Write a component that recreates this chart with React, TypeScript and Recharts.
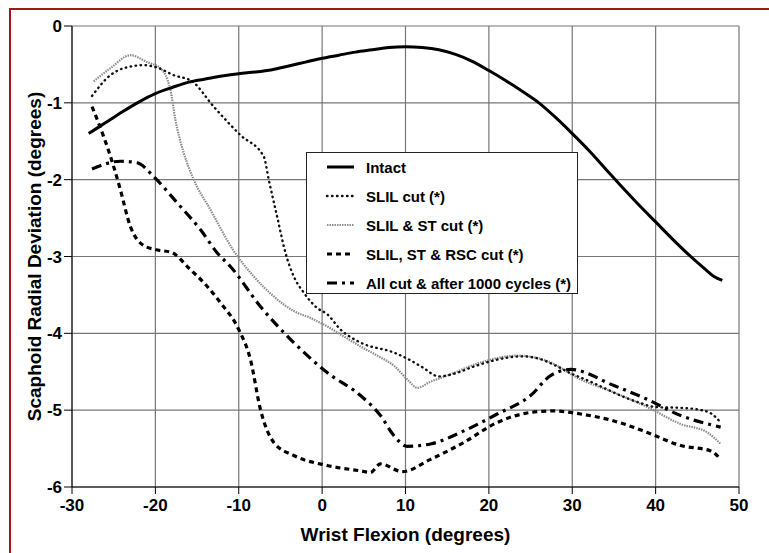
import React from "react";
import { LineChart, Line, XAxis, YAxis, CartesianGrid, Legend, Label } from "recharts";

// wrist flexion (deg) vs scaphoid radial deviation (deg)
const intact: [number, number][] = [
  [-28, -1.4], [-26, -1.26], [-24, -1.12], [-22, -0.99], [-20, -0.88], [-18, -0.8],
  [-16, -0.73], [-14, -0.69], [-12, -0.65], [-10, -0.62], [-8, -0.6], [-6, -0.57],
  [-4, -0.52], [-2, -0.47], [0, -0.42], [2, -0.38], [4, -0.34], [6, -0.31], [8, -0.28],
  [10, -0.27], [12, -0.28], [14, -0.31], [16, -0.37], [18, -0.46], [20, -0.58],
  [22, -0.71], [24, -0.85], [26, -1.0], [28, -1.19], [30, -1.4], [32, -1.62],
  [34, -1.86], [36, -2.1], [38, -2.33], [40, -2.55], [42, -2.77], [44, -2.98],
  [46, -3.17], [47, -3.26], [48, -3.31],
];

const slilCut: [number, number][] = [
  [-27.6, -0.91], [-25.4, -0.64], [-23.5, -0.54], [-21.4, -0.51], [-19.8, -0.54],
  [-17.8, -0.64], [-15.6, -0.72], [-13, -1.05], [-9.8, -1.42], [-7, -1.7],
  [-6.4, -2.0], [-5.4, -2.48], [-4.4, -2.95], [-3.4, -3.26], [-2.2, -3.47],
  [-0.6, -3.67], [0.6, -3.75], [2.2, -3.95], [4.6, -4.12], [8.6, -4.25], [10.4, -4.34],
  [12, -4.44], [14, -4.56], [16, -4.52], [18, -4.44], [20, -4.37], [22, -4.32],
  [24, -4.3], [26, -4.33], [28, -4.42], [30, -4.53], [32, -4.62], [34, -4.72],
  [36, -4.82], [38, -4.9], [40, -4.96], [43, -4.97], [45, -4.99], [46.6, -5.04],
  [47.8, -5.16],
];

const slilStCut: [number, number][] = [
  [-27.4, -0.72], [-25.4, -0.55], [-23, -0.38], [-21, -0.47], [-19.4, -0.55],
  [-18.2, -0.83], [-17.6, -1.22], [-16.6, -1.65], [-15.4, -2.0], [-13.4, -2.39],
  [-10.7, -2.91], [-8.2, -3.26], [-5.8, -3.52], [-3.4, -3.71], [-1.4, -3.8],
  [0.6, -3.91], [2.6, -4.04], [4.6, -4.17], [6.6, -4.29], [8.6, -4.42], [10.4, -4.62],
  [11.4, -4.71], [13, -4.63], [15, -4.55], [19, -4.38], [23.4, -4.29], [27, -4.36],
  [31, -4.6], [35, -4.77], [39, -4.96], [43, -5.18], [46.2, -5.29], [47.8, -5.44],
];

const rscCut: [number, number][] = [
  [-27.6, -1.05], [-26.2, -1.44], [-25, -1.83], [-24.2, -2.13], [-23, -2.61],
  [-21.5, -2.85], [-20, -2.91], [-18, -2.95], [-16, -3.15], [-14.2, -3.34],
  [-12.2, -3.6], [-10, -3.95], [-8.6, -4.34], [-7.4, -4.99], [-5.8, -5.42],
  [-3.4, -5.59], [0.6, -5.72], [4.6, -5.79], [5.8, -5.81], [7, -5.7], [9.6, -5.8],
  [13, -5.64], [17, -5.42], [21, -5.16], [25, -5.03], [27.8, -5.01], [31, -5.05],
  [35, -5.14], [39, -5.29], [43, -5.46], [46.6, -5.53], [47.8, -5.64],
];

const allCut: [number, number][] = [
  [-27.6, -1.86], [-24.2, -1.76], [-22.2, -1.78], [-20.2, -1.96], [-17.4, -2.3],
  [-14.6, -2.65], [-12.6, -2.95], [-11, -3.13], [-7.4, -3.65], [-3.4, -4.12],
  [0.6, -4.51], [4.6, -4.81], [7, -5.07], [8.6, -5.33], [10.2, -5.47], [13, -5.44],
  [17, -5.27], [21, -5.05], [25, -4.81], [27.4, -4.55], [29.8, -4.47], [35, -4.68],
  [39, -4.86], [43, -5.07], [47.8, -5.22],
];

const xTicks = [-30, -20, -10, 0, 10, 20, 30, 40, 50];
const yTicks = [-6, -5, -4, -3, -2, -1, 0];

const FONT = '"Liberation Sans", Arial, sans-serif';

const toPts = (arr: [number, number][]) => arr.map(([x, y]) => ({ x, y }));

const series = [
  { name: "Intact", data: intact, stroke: "#000", width: 3, dash: undefined, cap: "butt" },
  { name: "SLIL cut (*)", data: slilCut, stroke: "#111", width: 2.4, dash: "0.5 4.5", cap: "round" },
  { name: "SLIL & ST cut (*)", data: slilStCut, stroke: "#8c8c8c", width: 2.2, dash: "1.5 1", cap: "butt" },
  { name: "SLIL, ST & RSC cut (*)", data: rscCut, stroke: "#000", width: 3.2, dash: "5 4", cap: "butt" },
  { name: "All cut & after 1000 cycles (*)", data: allCut, stroke: "#000", width: 3.2, dash: "10 5 3 5", cap: "butt" },
];

const drawOrder = [2, 1, 3, 4, 0];

const LegendBox = () => (
  <div
    style={{
      width: 272,
      height: 142,
      boxSizing: "border-box",
      border: "1.5px solid #222",
      background: "#fff",
      position: "relative",
      fontFamily: FONT,
    }}
  >
    {series.map((s, i) => (
      <div
        key={s.name}
        style={{ position: "absolute", left: 0, top: 4 + i * 29, height: 20, display: "flex", alignItems: "center" }}
      >
        <svg width={60} height={20}>
          <line
            x1={20}
            x2={47}
            y1={10}
            y2={10}
            stroke={s.stroke}
            strokeWidth={s.width}
            strokeDasharray={s.dash}
            strokeLinecap={s.cap as any}
          />
        </svg>
        <span style={{ fontSize: 15, fontWeight: "bold", color: "#000", marginLeft: -1 }}>{s.name}</span>
      </div>
    ))}
  </div>
);

export default function App() {
  const tickStyle = { fill: "#000", fontSize: 17, fontWeight: "bold", fontFamily: FONT };
  return (
    <div
      style={{
        position: "absolute",
        left: 0,
        top: 0,
        width: 769,
        height: 553,
        overflow: "hidden",
        background: "#fff",
      }}
    >
      <div
        style={{
          position: "absolute",
          left: 9,
          top: 8,
          width: 800,
          height: 600,
          border: "2px solid #9c1a1a",
        }}
      />
      <LineChart width={769} height={553} margin={{ top: 26, right: 30, bottom: 0, left: 0 }}>
        <CartesianGrid stroke="#777" strokeWidth={1.2} horizontalValues={yTicks} verticalValues={xTicks} />
        <XAxis
          type="number"
          dataKey="x"
          domain={[-30, 50]}
          ticks={xTicks}
          allowDataOverflow
          height={66}
          tickSize={7}
          tickMargin={5}
          stroke="#000"
          tick={tickStyle}
        >
          <Label
            value="Wrist Flexion (degrees)"
            position="insideBottom"
            offset={12}
            fill="#000"
            style={{ fontSize: 19, fontWeight: "bold", fontFamily: FONT }}
          />
        </XAxis>
        <YAxis
          type="number"
          domain={[-6, 0]}
          ticks={yTicks}
          allowDataOverflow
          width={72}
          tickSize={8}
          tickMargin={2}
          stroke="#000"
          tick={tickStyle}
        >
          <Label
            value="Scaphoid Radial Deviation (degrees)"
            angle={-90}
            position="insideLeft"
            offset={34}
            fill="#000"
            style={{ fontSize: 19, fontWeight: "bold", fontFamily: FONT, textAnchor: "middle" }}
          />
        </YAxis>
        {drawOrder.map((i) => {
          const s = series[i];
          return (
            <Line
              key={s.name}
              name={s.name}
              data={toPts(s.data)}
              dataKey="y"
              type="monotone"
              stroke={s.stroke}
              strokeWidth={s.width}
              strokeDasharray={s.dash}
              strokeLinecap={s.cap as any}
              dot={false}
              activeDot={false}
              isAnimationActive={false}
            />
          );
        })}
        <Legend
          layout="vertical"
          align="center"
          verticalAlign="middle"
          content={() => <LegendBox />}
          wrapperStyle={{ left: 306, top: 152, width: 272, height: 142 }}
        />
      </LineChart>
    </div>
  );
}
